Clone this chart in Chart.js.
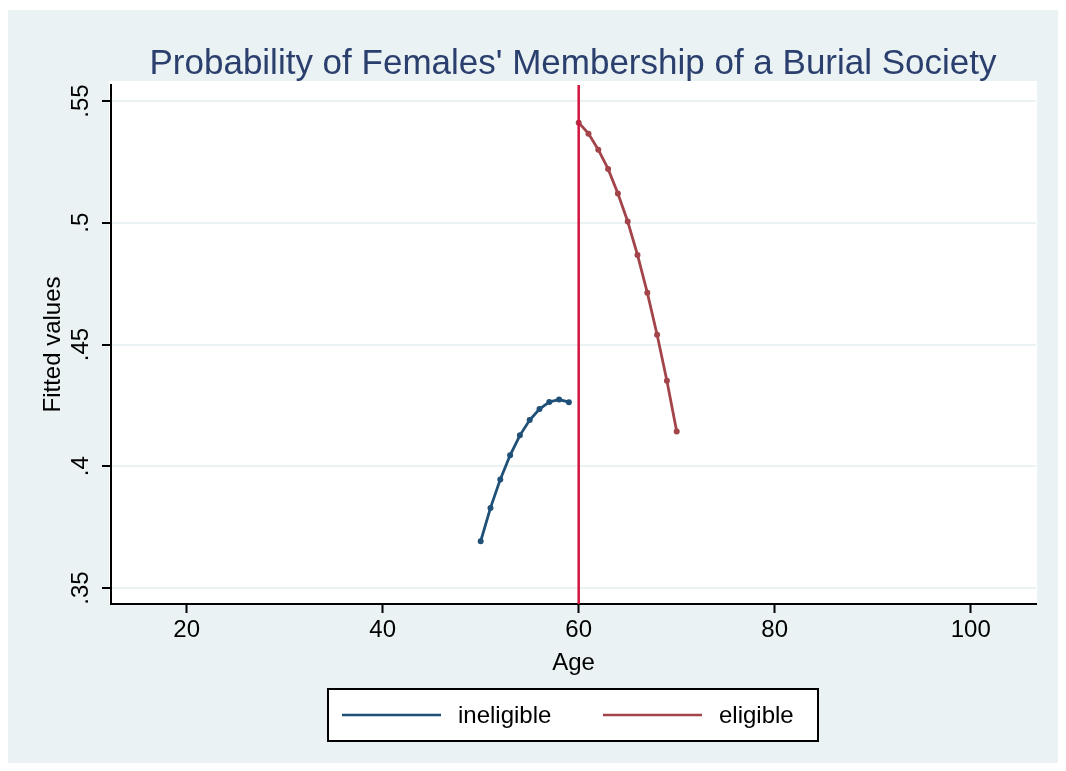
<!DOCTYPE html>
<html>
<head>
<meta charset="utf-8">
<script src="https://cdn.jsdelivr.net/npm/chart.js@4"></script>
<style>
  html, body { margin: 0; padding: 0; background: #ffffff; }
  #wrap { width: 1066px; height: 771px; }
</style>
</head>
<body>
<div id="wrap"><canvas id="chart" width="1066" height="771"></canvas></div>
<script>
// fitted values by age
const inelAges = [50, 51, 52, 53, 54, 55, 56, 57, 58, 59];
const inelFit = [0.3692, 0.3829, 0.3946, 0.4045, 0.4127, 0.4190, 0.4235, 0.4264, 0.4274, 0.4263];
const eligAges = [60, 61, 62, 63, 64, 65, 66, 67, 68, 69, 70];
const eligFit = [0.5411, 0.5366, 0.5300, 0.5221, 0.5120, 0.5005, 0.4868, 0.4713, 0.4540, 0.4351, 0.4143];
const cutoffAge = 60;

const seriesNames = ['ineligible', 'eligible'];
const xTicks = [20, 40, 60, 80, 100];
const yTicks = [0.35, 0.4, 0.45, 0.5, 0.55];
const yTickLabels = ['.35', '.4', '.45', '.5', '.55'];

const navy = '#1f5078';
const maroon = '#a24449';
const titleBlue = '#2a3f6d';
const bluishGray = '#eaf2f3';
const font = 'Liberation Sans, Arial, Helvetica, sans-serif';

function points(xs, ys) {
    let out = [];
    for (let i = 0; i < xs.length; i++) {
        out.push({ x: xs[i], y: ys[i] });
    }
    return out;
}

// graph region, plot region, cutoff line, rotated y labels and legend box
const stataLook = {
    id: 'stataLook',
    beforeDraw(chart) {
        const ctx = chart.ctx;
        const a = chart.chartArea;
        ctx.save();
        ctx.fillStyle = '#ffffff';
        ctx.fillRect(0, 0, chart.width, chart.height);
        ctx.fillStyle = bluishGray;
        ctx.fillRect(8, 10, 1050, 753);
        ctx.fillStyle = '#ffffff';
        ctx.fillRect(a.left - 2, a.top - 4, a.right - a.left + 3, a.bottom - a.top + 4);
        ctx.restore();
    },
    afterDatasetsDraw(chart) {
        const ctx = chart.ctx;
        const a = chart.chartArea;
        const xs = chart.scales.x;
        ctx.save();
        // cutoff age
        const cx = xs.getPixelForValue(cutoffAge);
        ctx.strokeStyle = '#d2143f';
        ctx.lineWidth = 2.5;
        ctx.beginPath();
        ctx.moveTo(cx, a.top);
        ctx.lineTo(cx, a.bottom);
        ctx.stroke();
        ctx.restore();
    },
    afterDraw(chart) {
        const ctx = chart.ctx;
        const a = chart.chartArea;
        const ys = chart.scales.y;
        ctx.save();
        ctx.fillStyle = '#000000';
        ctx.font = '24px ' + font;
        ctx.textAlign = 'center';
        ctx.textBaseline = 'middle';
        for (let i = 0; i < yTicks.length; i++) {
            const py = ys.getPixelForValue(yTicks[i]);
            ctx.save();
            ctx.translate(81, py);
            ctx.rotate(-Math.PI / 2);
            ctx.fillText(yTickLabels[i], 0, 0);
            ctx.restore();
        }
        ctx.save();
        ctx.translate(53, (a.top + a.bottom) / 2);
        ctx.rotate(-Math.PI / 2);
        ctx.fillText('Fitted values', 0, 0);
        ctx.restore();

        // legend
        const colors = [navy, maroon];
        const bx = 328, by = 689, bw = 490, bh = 52;
        ctx.fillStyle = '#ffffff';
        ctx.fillRect(bx, by, bw, bh);
        ctx.strokeStyle = '#000000';
        ctx.lineWidth = 2;
        ctx.strokeRect(bx, by, bw, bh);
        const itemX = [342, 603];
        const cy = by + bh / 2;
        ctx.textAlign = 'left';
        for (let i = 0; i < seriesNames.length; i++) {
            ctx.strokeStyle = colors[i];
            ctx.lineWidth = 2.5;
            ctx.beginPath();
            ctx.moveTo(itemX[i], cy);
            ctx.lineTo(itemX[i] + 99, cy);
            ctx.stroke();
            ctx.fillStyle = '#000000';
            ctx.fillText(seriesNames[i], itemX[i] + 116, cy + 1);
        }
        ctx.restore();
    }
};

const ctx = document.getElementById('chart').getContext('2d');
new Chart(ctx, {
    type: 'line',
    data: {
        datasets: [{
            label: seriesNames[0],
            data: points(inelAges, inelFit),
            borderColor: navy,
            backgroundColor: navy,
            borderWidth: 2.8,
            pointRadius: 1.6,
            tension: 0
        }, {
            label: seriesNames[1],
            data: points(eligAges, eligFit),
            borderColor: maroon,
            backgroundColor: maroon,
            borderWidth: 2.8,
            pointRadius: 1.6,
            tension: 0
        }]
    },
    options: {
        responsive: false,
        animation: false,
        layout: {
            padding: { left: 110, right: 30, top: 0, bottom: 87 }
        },
        plugins: {
            legend: { display: false },
            tooltip: { enabled: false },
            title: {
                display: true,
                text: "Probability of Females' Membership of a Burial Society",
                color: titleBlue,
                font: { family: font, size: 35, weight: 'normal' },
                padding: { top: 43, bottom: 0 }
            }
        },
        scales: {
            x: {
                type: 'linear',
                min: 12.28,
                max: 106.66,
                afterBuildTicks: function (scale) {
                    scale.ticks = xTicks.map(v => ({ value: v }));
                },
                afterFit: function (scale) {
                    scale.height = 80;
                },
                grid: {
                    drawOnChartArea: false,
                    drawTicks: true,
                    tickLength: 9,
                    tickColor: '#000000',
                    tickWidth: 2
                },
                border: { display: true, color: '#000000', width: 2 },
                ticks: {
                    color: '#000000',
                    font: { family: font, size: 24 },
                    padding: 3,
                    maxRotation: 0,
                    autoSkip: false
                },
                title: {
                    display: true,
                    text: 'Age',
                    color: '#000000',
                    font: { family: font, size: 24 },
                    padding: { top: 2, bottom: 6 }
                }
            },
            y: {
                type: 'linear',
                min: 0.34343,
                max: 0.55657,
                afterBuildTicks: function (scale) {
                    scale.ticks = yTicks.map(v => ({ value: v }));
                },
                afterFit: function (scale) {
                    scale.width = 1;
                },
                grid: {
                    color: bluishGray,
                    lineWidth: 2,
                    drawTicks: true,
                    tickLength: 9,
                    tickColor: '#000000',
                    tickWidth: 2
                },
                border: { display: true, color: '#000000', width: 2 },
                ticks: { display: false }
            }
        }
    },
    plugins: [stataLook]
});
</script>
</body>
</html>
